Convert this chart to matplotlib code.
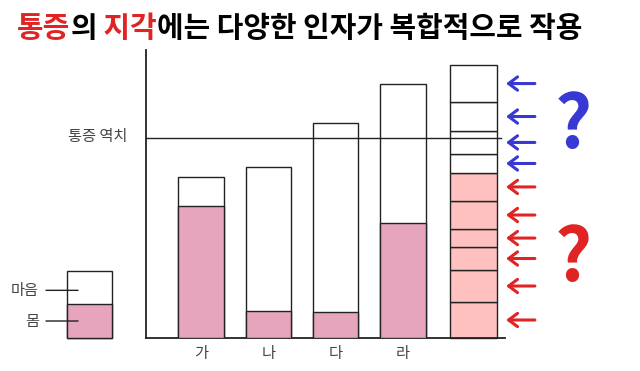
import matplotlib
matplotlib.use('Agg')
import matplotlib.pyplot as plt

plt.rcParams['font.family'] = ['Noto Sans CJK KR', 'DejaVu Sans']

# Pain perception bars (body part pink, mind part white on top)
categories = ['가', '나', '다', '라']
total_height = [56, 59.4, 74.7, 88.2]
body_height = [46, 9.4, 9.0, 40]
threshold = 69.4

# the small legend bar
legend_total = 23.3
legend_body = 11.8

# the stacked "factors" bar on the right, segment boundaries from bottom
factor_bounds = [0, 12.5, 23.6, 31.6, 37.8, 47.6, 57.3, 63.9, 71.9, 81.9, 94.8]
n_body_factors = 6

pink = '#e6a4bd'
light_pink = '#ffc0c0'
edge = '#222222'
blue = '#3838d4'
red = '#e02424'

fig = plt.figure(figsize=(6.4, 3.71), dpi=100)
ax = fig.add_axes([146 / 640, 1 - 338 / 371, 359 / 640, 288 / 371])
ax.set_xlim(-0.817, 4.515)
ax.set_ylim(0, 100)
for s in ['top', 'right']:
    ax.spines[s].set_visible(False)
for s in ['left', 'bottom']:
    ax.spines[s].set_linewidth(1.3)
    ax.spines[s].set_color(edge)
ax.set_yticks([])
ax.set_xticks(range(len(categories)))
ax.set_xticklabels(categories, fontsize=11, color='#444444')
ax.tick_params(axis='x', length=0, pad=5)

w = 0.67
xs = list(range(len(categories)))
ax.bar(xs, total_height, width=w, color='white', edgecolor=edge, linewidth=1, zorder=2)
ax.bar(xs, body_height, width=w, color=pink, edgecolor=edge, linewidth=1, zorder=3)

# right factor bar, one arrow per factor
fx = 4.05
fw = 0.70
for i in range(len(factor_bounds) - 1):
    lo, hi = factor_bounds[i], factor_bounds[i + 1]
    c = light_pink if i < n_body_factors else 'white'
    ax.bar(fx, hi - lo, bottom=lo, width=fw, color=c, edgecolor=edge,
           linewidth=1, zorder=2, clip_on=False)
    mid = (lo + hi) / 2
    ac = red if i < n_body_factors else blue
    ax.annotate('', xy=(fx + fw / 2 + 0.09, mid), xytext=(fx + fw / 2 + 0.6, mid),
                arrowprops=dict(arrowstyle='->,head_length=0.4,head_width=0.3',
                                lw=2.2, color=ac, mutation_scale=16),
                annotation_clip=False)

# pain threshold
ax.plot([-0.817, fx + fw / 2 + 0.05], [threshold, threshold], color=edge, lw=1, zorder=4)
ax.text(-1.1, threshold + 0.5, '통증 역치', ha='right', va='center', fontsize=11,
        color='#444444')

# question marks
ax.text(5.53, 73.5, '?', ha='center', va='center', fontsize=52, fontweight='bold',
        color=blue, clip_on=False)
ax.text(5.53, 27, '?', ha='center', va='center', fontsize=52, fontweight='bold',
        color=red, clip_on=False)

# legend bar
lx = -1.656
ax.bar(lx, legend_total, width=w, color='white', edgecolor=edge, linewidth=1,
       clip_on=False)
ax.bar(lx, legend_body, width=w, color=pink, edgecolor=edge, linewidth=1,
       clip_on=False)
mind_y = (legend_total + legend_body) / 2 - 1
body_y = legend_body / 2
for label, yy in [('마음', mind_y), ('몸', body_y)]:
    ax.annotate(label, xy=(lx - 0.17, yy), xytext=(lx - 0.75, yy),
                ha='right', va='center', fontsize=11, color='#444444',
                arrowprops=dict(arrowstyle='-', lw=1, color=edge, shrinkA=3, shrinkB=0),
                annotation_clip=False)

# title in two colours, pieces chained one after another
parts = [('통증', red), ('의', 'black'), (' 지각', red),
         ('에는 다양한 인자가 복합적으로 작용', 'black')]
t = fig.text(17 / 640, 1 - 28 / 371, parts[0][0], color=parts[0][1], fontsize=20.8,
             fontweight='bold', ha='left', va='center')
for txt, c in parts[1:]:
    t = ax.annotate(txt, xy=(1, 0.5), xycoords=t, color=c, fontsize=20.8,
                    fontweight='bold', ha='left', va='center', annotation_clip=False)

fig.savefig('out.png', dpi=100)
